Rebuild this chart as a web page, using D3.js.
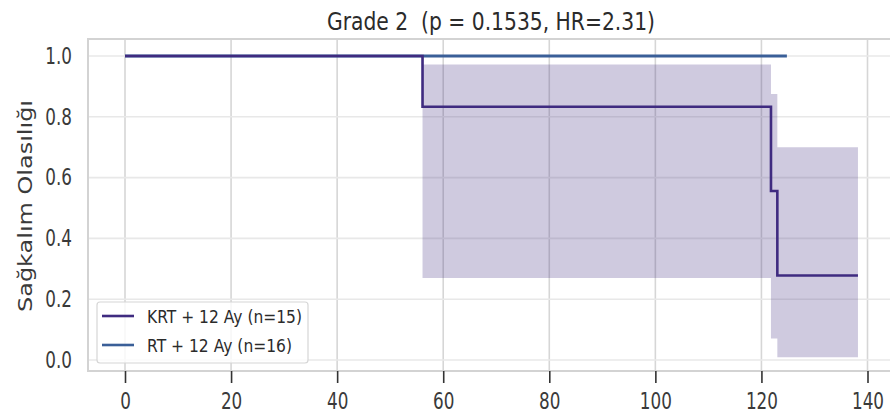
<!DOCTYPE html>
<html>
<head>
<meta charset="utf-8">
<script src="https://cdn.jsdelivr.net/npm/d3@7"></script>
<style>
  body { margin: 0; background: #fff; }
  text { font-family: "DejaVu Sans", sans-serif; }
</style>
</head>
<body>
<div id="chart"></div>
<script>
// Kaplan-Meier step data
const krtTimes = [0, 56.1, 121.8, 123.0, 138.2];
const krtSurv = [1.0, 0.833, 0.556, 0.278, 0.278];
const ciTimes = [56.1, 121.8, 123.0, 138.2];
const ciUpper = [0.972, 0.875, 0.70, 0.70];
const ciLower = [0.27, 0.071, 0.009, 0.009];
const rtTimes = [0, 124.8];
const rtSurv = [1.0, 1.0];

const seriesNames = ["KRT + 12 Ay (n=15)", "RT + 12 Ay (n=16)"];
const xTicks = [0, 20, 40, 60, 80, 100, 120, 140];
const yTicks = [0, 0.2, 0.4, 0.6, 0.8, 1.0];
const title = "Grade 2  (p = 0.1535, HR=2.31)";
const yLabel = "Sağkalım Olasılığı";

const W = 890, H = 416;
const sx = 0.73; // picture is squeezed sideways
const krtColor = "#3f2b80", rtColor = "#3a5f98";

const svg = d3.select("#chart").append("svg")
  .attr("width", W).attr("height", H);

const x = d3.scaleLinear().domain([0, 140]).range([125, 867.5]);
const y = d3.scaleLinear().domain([0, 1]).range([360, 56]);
const frame = { left: 88, top: 39, bottom: 371 };

// grid
svg.append("g").selectAll("line").data(xTicks).enter().append("line")
  .attr("x1", d => x(d)).attr("x2", d => x(d))
  .attr("y1", frame.top).attr("y2", frame.bottom)
  .attr("stroke", "#d6d6d6").attr("stroke-width", 1.6);
svg.append("g").selectAll("line").data(yTicks).enter().append("line")
  .attr("x1", frame.left).attr("x2", W + 5)
  .attr("y1", d => y(d)).attr("y2", d => y(d))
  .attr("stroke", "#e8e8e8").attr("stroke-width", 1.6);

// frame
svg.append("rect")
  .attr("x", frame.left).attr("y", frame.top)
  .attr("width", W + 20 - frame.left).attr("height", frame.bottom - frame.top)
  .attr("fill", "none").attr("stroke", "#d3d3d3").attr("stroke-width", 2);

// confidence band
const ci = ciTimes.map((t, i) => ({ t: t, lo: ciLower[i], hi: ciUpper[i] }));
svg.append("path").datum(ci)
  .attr("d", d3.area().curve(d3.curveStepAfter)
    .x(d => x(d.t)).y0(d => y(d.lo)).y1(d => y(d.hi)))
  .attr("fill", krtColor).attr("fill-opacity", 0.25);

const line = d3.line().curve(d3.curveStepAfter).x(d => x(d.t)).y(d => y(d.s));
svg.append("path").datum(rtTimes.map((t, i) => ({ t: t, s: rtSurv[i] })))
  .attr("d", line).attr("fill", "none")
  .attr("stroke", rtColor).attr("stroke-width", 2.8);
svg.append("path").datum(krtTimes.map((t, i) => ({ t: t, s: krtSurv[i] })))
  .attr("d", line).attr("fill", "none")
  .attr("stroke", krtColor).attr("stroke-width", 2.6);

// axes
const xAxis = svg.append("g")
  .attr("transform", "translate(0," + frame.bottom + ")")
  .call(d3.axisBottom(x).tickValues(xTicks).tickSize(12).tickPadding(10));
xAxis.select(".domain").remove();
xAxis.selectAll("line").attr("stroke", "#333").attr("stroke-width", 1.6);
xAxis.selectAll("text")
  .attr("font-size", 23).attr("fill", "#3a3a3a")
  .attr("transform", "scale(" + sx + ",1)");

const yAxis = svg.append("g")
  .attr("transform", "translate(" + frame.left + ",0)")
  .call(d3.axisLeft(y).tickValues(yTicks).tickSize(0).tickFormat(d3.format(".1f")));
yAxis.select(".domain").remove();
yAxis.selectAll("text")
  .attr("font-size", 23).attr("fill", "#3a3a3a")
  .attr("x", -16 / sx)
  .attr("transform", "scale(" + sx + ",1)");

// title and y label
svg.append("text")
  .attr("x", 491).attr("y", 30)
  .attr("text-anchor", "middle")
  .style("white-space", "pre")
  .attr("font-size", 25).attr("fill", "#2b2b2b")
  .attr("textLength", 328).attr("lengthAdjust", "spacingAndGlyphs")
  .text(title);

svg.append("text")
  .attr("transform", "translate(32,206) scale(0.8,1) rotate(-90)")
  .attr("text-anchor", "middle")
  .attr("font-size", 24).attr("fill", "#3a3a3a")
  .attr("textLength", 212).attr("lengthAdjust", "spacingAndGlyphs")
  .text(yLabel);

// legend
const legend = svg.append("g");
legend.append("rect")
  .attr("x", 97).attr("y", 302).attr("width", 211).attr("height", 61)
  .attr("rx", 3).attr("fill", "#fff").attr("fill-opacity", 0.8)
  .attr("stroke", "#d6d6d6").attr("stroke-width", 1.2);
const legendColors = [krtColor, rtColor];
const legendLens = [155, 145];
seriesNames.forEach((name, i) => {
  const ly = 316 + i * 29;
  legend.append("line")
    .attr("x1", 102).attr("x2", 134).attr("y1", ly).attr("y2", ly)
    .attr("stroke", legendColors[i]).attr("stroke-width", 2.6);
  legend.append("text")
    .attr("x", 147).attr("y", ly + 6.5)
    .attr("font-size", 17.5).attr("fill", "#2b2b2b")
    .attr("textLength", legendLens[i]).attr("lengthAdjust", "spacingAndGlyphs")
    .text(name);
});
</script>
</body>
</html>
